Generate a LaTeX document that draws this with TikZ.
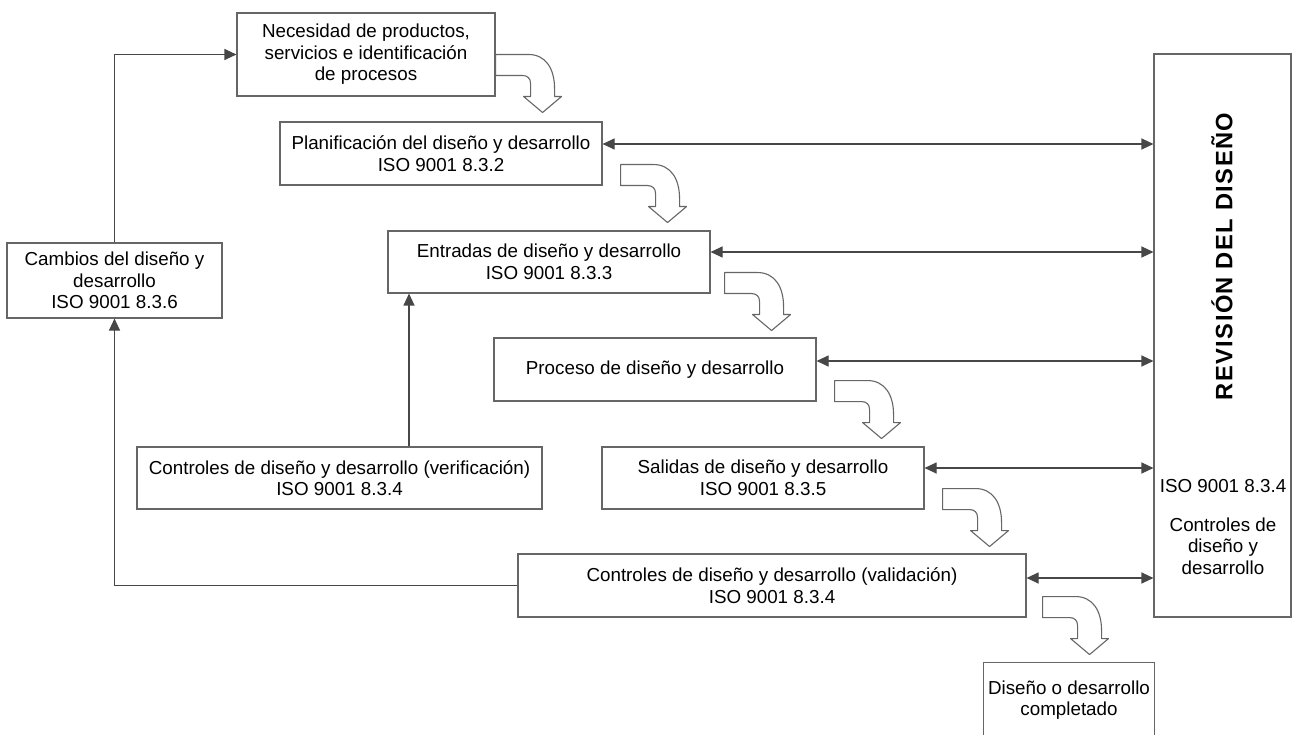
\documentclass[tikz,border=0pt]{standalone}
\usepackage{fontspec}
\setmainfont{Liberation Sans}
\usetikzlibrary{arrows.meta,calc}
\newcommand{\bendarrow}[1]{%
  \draw[barrow,shift={(#1)}] (0,0) -- (33,0) .. controls (50,0) and (59,14) .. (59,34)
    -- (59,42) -- (66,42) -- (47,58) -- (28,42) -- (35,42) -- (35,29)
    .. controls (35,24) and (32,21) .. (27,21) -- (0,21) -- cycle;}
\begin{document}
\begin{tikzpicture}[x=1pt,y=-1pt,
  box/.style={draw=black!60,line width=1.1pt,fill=white,align=center,inner sep=0pt,
    font=\fontsize{18.8}{21.5}\selectfont},
  conn/.style={draw=black!72,line width=1.1pt},
  arr/.style={conn,-{Triangle[length=12pt,width=11pt]}},
  darr/.style={conn,{Triangle[length=12pt,width=11pt]}-{Triangle[length=12pt,width=11pt]}},
  barrow/.style={draw=black!60,line width=1.1pt,fill=white,line join=round}]
\useasboundingbox (0,0) rectangle (1293,735);

\node[box,minimum width=258pt,minimum height=83pt] (nec) at (366,54.5)
  {Necesidad de productos,\\servicios e identificación\\de procesos};
\node[box,minimum width=322pt,minimum height=63pt] (pla) at (441,153.5)
  {Planificación del diseño y desarrollo\\ISO 9001 8.3.2};
\node[box,minimum width=322pt,minimum height=62pt] (ent) at (549,262)
  {Entradas de diseño y desarrollo\\ISO 9001 8.3.3};
\node[box,minimum width=322pt,minimum height=63pt] (pro) at (655,369.5)
  {Proceso de diseño y desarrollo};
\node[box,minimum width=322pt,minimum height=62pt] (sal) at (763,478)
  {Salidas de diseño y desarrollo\\ISO 9001 8.3.5};
\node[box,minimum width=508pt,minimum height=63pt] (val) at (772,585.5)
  {Controles de diseño y desarrollo (validación)\\ISO 9001 8.3.4};
\node[box,draw=none,minimum width=170pt,minimum height=74pt] (dis) at (1069,700)
  {Diseño o desarrollo\\completado};
\draw[draw=black!60,line width=1.1pt] (dis.south west) -- (dis.north west) -- (dis.north east) -- (dis.south east);
\node[box,minimum width=215pt,minimum height=75pt] (cam) at (114.5,280.5)
  {Cambios del diseño y\\desarrollo\\ISO 9001 8.3.6};
\node[box,minimum width=405pt,minimum height=62pt] (ver) at (339.5,478)
  {Controles de diseño y desarrollo (verificación)\\ISO 9001 8.3.4};
\node[box,minimum width=137pt,minimum height=563pt] (rev) at (1222.5,335.5) {};
\node[rotate=90,font=\fontsize{23.7}{26}\selectfont\bfseries\addfontfeature{LetterSpace=6}]
  (revt) at (1222,256.5) {REVISIÓN DEL DISEÑO};
\node[align=center,inner sep=0pt,font=\fontsize{18.8}{21.5}\selectfont] (revc) at (1223,527)
  {ISO 9001 8.3.4\\[17.5pt]Controles de\\diseño y\\desarrollo};

% feedback lines
\draw[arr] (val.west) -| (cam.south);
\draw[arr] (cam.north) |- (nec.west);
\draw[arr] ([xshift=69.5pt]ver.north) -- ([xshift=69.5pt]ver.north |- ent.south);

% review arrows
\draw[darr] ([yshift=9.5pt]pla.east) -- ([yshift=9.5pt]pla.east -| rev.west);
\draw[darr] ([yshift=10pt]ent.east) -- ([yshift=10pt]ent.east -| rev.west);
\draw[darr] ([yshift=8.5pt]pro.east) -- ([yshift=8.5pt]pro.east -| rev.west);
\draw[darr] ([yshift=10pt]sal.east) -- ([yshift=10pt]sal.east -| rev.west);
\draw[darr] ([yshift=7.5pt]val.east) -- ([yshift=7.5pt]val.east -| rev.west);

% block arrows
\coordinate (b1) at (nec.east);
\coordinate (b2) at ($(pla.south east)+(18,-21)$);
\coordinate (b3) at ($(ent.south east)+(14,-21)$);
\coordinate (b4) at ($(pro.south east)+(18,-21)$);
\coordinate (b5) at ($(sal.south east)+(18,-21)$);
\coordinate (b6) at ($(val.south east)+(16,-21)$);
\bendarrow{b1}
\bendarrow{b2}
\bendarrow{b3}
\bendarrow{b4}
\bendarrow{b5}
\bendarrow{b6}
\end{tikzpicture}
\end{document}
